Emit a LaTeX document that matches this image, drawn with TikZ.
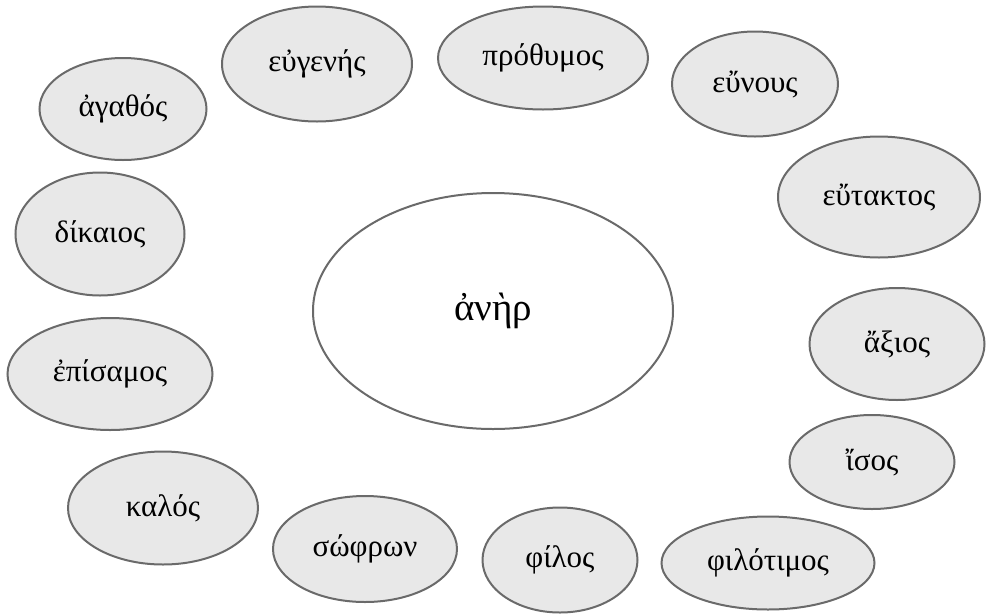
\documentclass[tikz,border=0pt]{standalone}
\usepackage{fontspec}
\setmainfont{Liberation Serif}
\usetikzlibrary{shapes.geometric}
\usepackage{xcolor}
\definecolor{bubblefill}{HTML}{E8E8E8}
\definecolor{bubblerim}{HTML}{6A6A6A}

\begin{document}
\begin{tikzpicture}[x=1pt, y=-1pt,
        bubble/.style={ellipse, draw=bubblerim, fill=bubblefill, line width=2, inner sep=0pt, font=\fontsize{31}{36}\selectfont},
        hub/.style={bubble, fill=white, font=\fontsize{39}{46}\selectfont}]
        \useasboundingbox (0,0) rectangle (986,614);

        \node[hub, minimum width=360, minimum height=236] (aner) at (493,311) {ἀνὴρ};

        \node[bubble, minimum width=167, minimum height=102] (agathos) at (123,109) {ἀγαθός};
        \node[bubble, minimum width=190, minimum height=115] (eugenes) at (317,64) {εὐγενής};
        \node[bubble, minimum width=210, minimum height=103] (prothymos) at (543,58) {πρόθυμος};
        \node[bubble, minimum width=166, minimum height=105] (eunous) at (755,84) {εὔνους};
        \node[bubble, minimum width=202, minimum height=121] (eutaktos) at (879,197) {εὔτακτος};
        \node[bubble, minimum width=175, minimum height=112] (axios) at (897,344) {ἄξιος};
        \node[bubble, minimum width=165, minimum height=94] (isos) at (872,462) {ἴσος};
        \node[bubble, minimum width=213, minimum height=93] (philotimos) at (768,563) {φιλότιμος};
        \node[bubble, minimum width=155, minimum height=105] (philos) at (560,560) {φίλος};
        \node[bubble, minimum width=184, minimum height=106] (sophron) at (365,549) {σώφρων};
        \node[bubble, minimum width=190, minimum height=113] (kalos) at (163,508) {καλός};
        \node[bubble, minimum width=205, minimum height=112] (episamos) at (110,374) {ἐπίσαμος};
        \node[bubble, minimum width=169, minimum height=123] (dikaios) at (100,234) {δίκαιος};

\end{tikzpicture}
\end{document}
